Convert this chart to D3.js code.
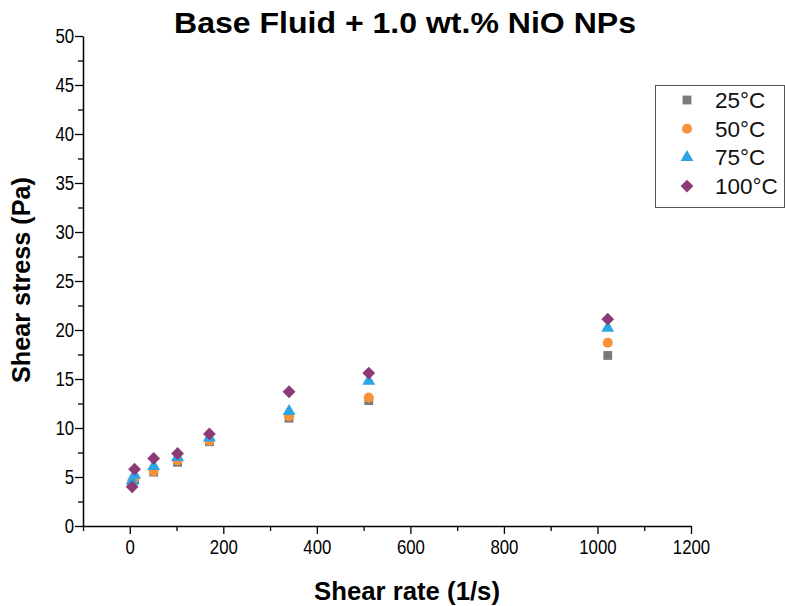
<!DOCTYPE html>
<html>
<head>
<meta charset="utf-8">
<script src="https://d3js.org/d3.v7.min.js"></script>
<style>
body { margin:0; background:#fff; }
text { font-family: "Liberation Sans", Arial, sans-serif; }
</style>
</head>
<body>
<div id="chart"></div>
<script>
// shear rates (1/s) and shear stress (Pa) per temperature
var shear_rate = [5.11, 10.22, 51.1, 102.2, 170.3, 340.6, 511, 1022];
var stress_25 = [4.3, 4.7, 5.5, 6.5, 8.6, 11.0, 12.8, 17.4];
var stress_50 = [4.5, 4.9, 5.6, 6.7, 8.7, 11.2, 13.1, 18.7];
var stress_75 = [4.6, 5.2, 6.1, 7.0, 9.0, 11.7, 14.8, 20.2];
var stress_100 = [4.0, 5.8, 6.9, 7.4, 9.4, 13.7, 15.6, 21.1];
var series_names = ["25°C", "50°C", "75°C", "100°C"];
var x_ticks = [0, 200, 400, 600, 800, 1000, 1200];
var y_ticks = [0, 5, 10, 15, 20, 25, 30, 35, 40, 45, 50];

var width = 785, height = 606;
var svg = d3.select("#chart").append("svg")
	.attr("width", width).attr("height", height);

var x = d3.scaleLinear().domain([-100, 1200]).range([83, 691]);
var y = d3.scaleLinear().domain([0, 50]).range([526, 36]);

var series = [
	{name: series_names[0], vals: stress_25, color: "#7a7a7a", shape: d3.symbolSquare, size: 78, rot: 0},
	{name: series_names[1], vals: stress_50, color: "#f7923a", shape: d3.symbolCircle, size: 80, rot: 0},
	{name: series_names[2], vals: stress_75, color: "#2ba6e3", shape: d3.symbolTriangle, size: 72, rot: 0},
	{name: series_names[3], vals: stress_100, color: "#8c3a76", shape: d3.symbolSquare, size: 82, rot: 45}
];

// minor ticks first, then major ones
svg.append("g")
	.attr("transform", "translate(0,526)")
	.call(d3.axisBottom(x).tickValues(d3.range(-100, 1201, 200)).tickSize(5).tickFormat(""))
	.call(function(g){ g.select(".domain").remove(); });
svg.append("g")
	.attr("transform", "translate(83,0)")
	.call(d3.axisLeft(y).tickValues(d3.range(2.5, 50, 5)).tickSize(5).tickFormat(""))
	.call(function(g){ g.select(".domain").remove(); });

var xAxis = svg.append("g")
	.attr("transform", "translate(0,526)")
	.call(d3.axisBottom(x).tickValues(x_ticks).tickFormat(d3.format("d"))
		.tickSize(8).tickSizeOuter(0).tickPadding(5));
xAxis.select(".domain").attr("stroke-width", 1.5);
xAxis.selectAll("text")
	.attr("font-size", 21).attr("fill", "#000")
	.attr("transform", "scale(0.8,1)");

var yAxis = svg.append("g")
	.attr("transform", "translate(83,0)")
	.call(d3.axisLeft(y).tickValues(y_ticks).tickSize(8).tickSizeOuter(0).tickPadding(3));
yAxis.select(".domain").attr("stroke-width", 1.5);
yAxis.selectAll("text")
	.attr("font-size", 21).attr("fill", "#000")
	.attr("transform", "scale(0.8,1)");
svg.selectAll(".tick line").attr("stroke-width", 1.3);

// points
series.forEach(function(s){
	svg.append("g").selectAll("path")
		.data(s.vals)
		.enter().append("path")
		.attr("d", d3.symbol().type(s.shape).size(s.size))
		.attr("transform", function(d, i){
			return "translate(" + x(shear_rate[i]) + "," + y(d) + ") rotate(" + s.rot + ")";
		})
		.attr("fill", s.color);
});

// legend
var legend = svg.append("g");
legend.append("rect")
	.attr("x", 655.5).attr("y", 85.5).attr("width", 129).attr("height", 122)
	.attr("fill", "#fff").attr("stroke", "#555").attr("stroke-width", 1);
series.forEach(function(s, i){
	var ly = 100 + i * 28.7;
	legend.append("path")
		.attr("d", d3.symbol().type(s.shape).size(s.size))
		.attr("transform", "translate(687," + ly + ") rotate(" + s.rot + ")")
		.attr("fill", s.color);
	legend.append("text")
		.attr("x", 715).attr("y", ly + 8)
		.attr("font-size", 22.5).attr("fill", "#111")
		.text(s.name);
});

// titles
svg.append("text")
	.attr("x", 405).attr("y", 33)
	.attr("text-anchor", "middle")
	.attr("font-size", 30).attr("font-weight", "bold")
	.attr("textLength", 462).attr("lengthAdjust", "spacingAndGlyphs")
	.text("Base Fluid + 1.0 wt.% NiO NPs");

svg.append("text")
	.attr("x", 407).attr("y", 600)
	.attr("text-anchor", "middle")
	.attr("font-size", 25).attr("font-weight", "bold")
	.attr("textLength", 186).attr("lengthAdjust", "spacingAndGlyphs")
	.text("Shear rate (1/s)");

svg.append("text")
	.attr("transform", "translate(30,280) rotate(-90)")
	.attr("text-anchor", "middle")
	.attr("font-size", 25).attr("font-weight", "bold")
	.attr("textLength", 206).attr("lengthAdjust", "spacingAndGlyphs")
	.text("Shear stress (Pa)");
</script>
</body>
</html>
